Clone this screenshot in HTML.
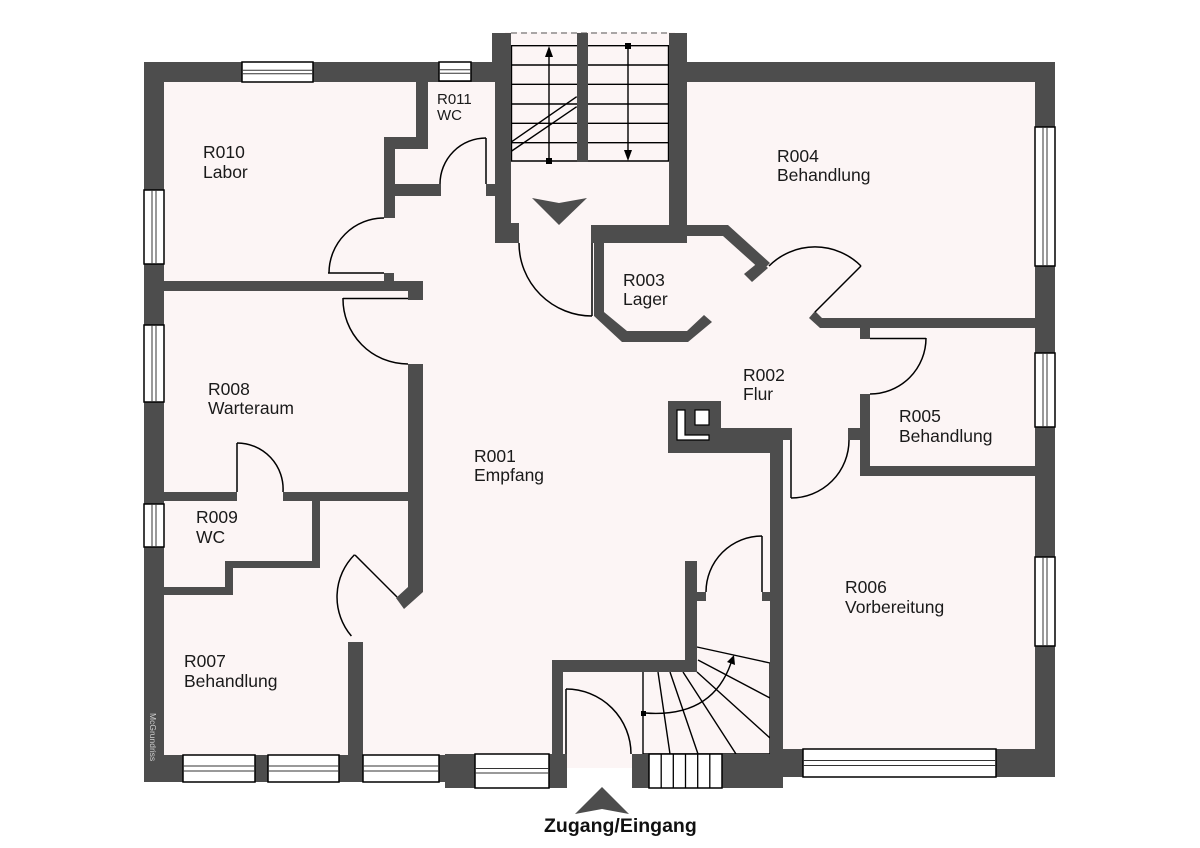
<!DOCTYPE html>
<html><head><meta charset="utf-8"><style>html,body{margin:0;padding:0;background:#fff}svg{display:block}</style></head>
<body>
<svg width="1200" height="848" viewBox="0 0 1200 848" xmlns="http://www.w3.org/2000/svg">
<rect width="1200" height="848" fill="#fff"/>
<!-- floor -->
<g fill="#fcf5f5">
<rect x="160" y="78" width="880" height="680"/>
<rect x="505" y="32" width="170" height="50"/>
<rect x="560" y="750" width="80" height="18"/>
</g>
<!-- stair treads (under walls) -->
<g stroke="#000" stroke-width="1.4" fill="none">
<path d="M511 45.7H669M511 65H669M511 84.3H669M511 104H669M511 123.3H669M511 142.7H669M511 161H669"/>
<path d="M511.5 45.7V161M668.5 45.7V161"/>
<path d="M511.7 141.7L576.7 96.7M511.7 151L576.7 106.7"/>
<path d="M549 161V53M628 46V154"/>
</g>
<path d="M511 33H669" stroke="#777" stroke-width="1.2" stroke-dasharray="6 4" fill="none"/>
<polygon points="549,46 545,57 553,57" fill="#000"/>
<polygon points="628,161 624,150 632,150" fill="#000"/>
<rect x="546" y="158" width="6" height="6" fill="#000"/>
<rect x="625" y="43" width="6" height="6" fill="#000"/>
<!-- spiral stair -->
<g stroke="#000" stroke-width="1.4" fill="none">
<path d="M643 672V754M643 754H770M697 647L770 663M770 663V754"/>
<path d="M658 672L670 754M670 672L698 754M683 672L736 754M697 672L770 738M698 660L770 698"/>
<path d="M645 713Q712 718 731 663"/>
</g>
<rect x="641" y="711" width="5" height="5" fill="#000"/>
<polygon points="734,655 735,665 727,662" fill="#000"/>
<!-- walls -->
<g fill="#4d4d4d">
<rect x="144" y="62" width="350" height="20"/>
<rect x="492" y="33" width="19" height="49"/>
<rect x="495" y="82" width="16" height="161"/>
<rect x="495" y="223" width="24" height="20"/>
<rect x="577" y="33" width="11" height="129"/>
<rect x="669" y="33" width="18" height="210"/>
<rect x="687" y="62" width="368" height="20"/>
<rect x="1035" y="62" width="20" height="715"/>
<rect x="144" y="62" width="20" height="720"/>
<rect x="144" y="755" width="301" height="27"/>
<rect x="445" y="754" width="122" height="34"/>
<rect x="632" y="754" width="150" height="34"/>
<rect x="782" y="749" width="273" height="28"/>
<rect x="416" y="82" width="12" height="67"/>
<rect x="384" y="137" width="44" height="12"/>
<rect x="384" y="137" width="11" height="81"/>
<rect x="395" y="184" width="46" height="12"/>
<rect x="486" y="184" width="9" height="12"/>
<rect x="384" y="273" width="10" height="8"/>
<rect x="164" y="281" width="259" height="10"/>
<rect x="408" y="281" width="15" height="19"/>
<polygon points="408,364 423,364 423,592 404,609 396,598 408,587"/>
<rect x="348" y="642" width="15" height="113"/>
<rect x="164" y="492" width="73" height="9"/>
<rect x="283" y="492" width="140" height="9"/>
<rect x="312" y="501" width="8" height="67"/>
<rect x="225" y="561" width="95" height="7"/>
<rect x="225" y="561" width="8" height="34"/>
<rect x="164" y="587" width="69" height="8"/>
<rect x="591" y="225" width="96" height="18"/>
<polygon points="687,225 728,225 770,263 762,271 723,236 687,236"/>
<polygon points="760,261 768,268 752,282 744,274"/>
<polygon points="594,243 604,243 604,312 627,331 687,331 704,315 712,322 688,342 622,342 594,316"/>
<polygon points="815,311 822,318 1035,318 1035,328 820,328 809,318"/>
<rect x="860" y="328" width="10" height="11"/>
<rect x="860" y="394" width="10" height="82"/>
<rect x="848" y="428" width="12" height="12"/>
<rect x="860" y="466" width="175" height="10"/>
<rect x="668" y="401" width="53" height="52"/>
<rect x="721" y="428" width="62" height="25"/>
<rect x="783" y="428" width="9" height="12"/>
<rect x="770" y="453" width="13" height="335"/>
<rect x="685" y="561" width="12" height="111"/>
<rect x="697" y="592" width="9" height="9"/>
<rect x="762" y="592" width="8" height="9"/>
<rect x="552" y="660" width="145" height="12"/>
<rect x="552" y="660" width="11" height="94"/>
</g>
<!-- chimney -->
<g fill="#fff" stroke="#000" stroke-width="1.2">
<rect x="695" y="410" width="14" height="15"/>
<polygon points="677,410 685,410 685,435 709,435 709,440 677,440"/>
</g>
<!-- windows -->
<g fill="#fff" stroke="#000" stroke-width="1.5">
<rect x="242" y="62" width="71" height="20"/>
<rect x="439" y="62" width="32" height="19"/>
<rect x="183" y="755" width="72" height="27"/>
<rect x="268" y="755" width="71" height="27"/>
<rect x="363" y="755" width="76" height="27"/>
<rect x="475" y="754" width="74" height="34"/>
<rect x="803" y="749" width="193" height="28"/>
<rect x="144" y="190" width="20" height="74"/>
<rect x="144" y="325" width="20" height="77"/>
<rect x="144" y="504" width="20" height="43"/>
<rect x="1035" y="127" width="20" height="139"/>
<rect x="1035" y="353" width="20" height="74"/>
<rect x="1035" y="557" width="20" height="89"/>
<rect x="649" y="754" width="73" height="34"/>
</g>
<g stroke="#333" stroke-width="1" fill="none">
<path d="M242 70.3H313M242 73.7H313"/>
<path d="M439 69.8H471M439 73.2H471"/>
<path d="M183 766H255M183 771H255"/>
<path d="M268 766H339M268 771H339"/>
<path d="M363 766H439M363 771H439"/>
<path d="M475 768.5H549M475 773H549"/>
<path d="M803 760.5H996M803 765.5H996"/>
<path d="M152 190V264M156 190V264"/>
<path d="M152 325V402M156 325V402"/>
<path d="M152 504V547M156 504V547"/>
<path d="M1043 127V266M1047 127V266"/>
<path d="M1043 353V427M1047 353V427"/>
<path d="M1043 557V646M1047 557V646"/>
</g>
<g stroke="#000" stroke-width="1.3" fill="none">
<path d="M661.2 754V788M673.3 754V788M685.5 754V788M697.7 754V788M709.8 754V788"/>
</g>
<!-- doors -->
<g stroke="#000" stroke-width="1.5" fill="none">
<path d="M486 138V184"/><path d="M486 138A46 46 0 0 0 440 184"/>
<path d="M328 273H384"/><path d="M384 218A55 55 0 0 0 329 273"/>
<path d="M343 298.5H408"/><path d="M343 298A65 65 0 0 0 408 364"/>
<path d="M237 443V492"/><path d="M237 443A46 46 0 0 1 283 492"/>
<path d="M397 597L355 555"/><path d="M354.6 554.6A60 60 0 0 0 351.4 636"/>
<path d="M592 243V316"/><path d="M519 243A73 73 0 0 0 592 316"/>
<path d="M861 266L815 312"/><path d="M769 266A65 65 0 0 1 861 266"/>
<path d="M870 338.5H926"/><path d="M926 338A56 56 0 0 1 870 394"/>
<path d="M791 440V498"/><path d="M791 498A58 58 0 0 0 849 440"/>
<path d="M762 536V592"/><path d="M706 592A56 56 0 0 1 762 536"/>
<path d="M566 689V754"/><path d="M566 689A65 65 0 0 1 631 754"/>
</g>
<!-- arrows -->
<polygon points="532,198 559,203 587,198 559,225" fill="#4d4d4d"/>
<polygon points="575,814 602,809 629,814 602,787" fill="#4d4d4d"/>
<!-- labels -->
<g font-family="'Liberation Sans', Arial, sans-serif" font-size="17.5" fill="#1a1a1a">
<text x="203" y="158">R010</text><text x="203" y="178">Labor</text>
<text x="777" y="162">R004</text><text x="777" y="181">Behandlung</text>
<text x="623" y="286">R003</text><text x="623" y="305">Lager</text>
<text x="743" y="381">R002</text><text x="743" y="400">Flur</text>
<text x="899" y="422">R005</text><text x="899" y="442">Behandlung</text>
<text x="208" y="395">R008</text><text x="208" y="414">Warteraum</text>
<text x="474" y="462">R001</text><text x="474" y="481">Empfang</text>
<text x="196" y="523">R009</text><text x="196" y="543">WC</text>
<text x="845" y="593">R006</text><text x="845" y="613">Vorbereitung</text>
<text x="184" y="667">R007</text><text x="184" y="687">Behandlung</text>
</g>
<g font-family="'Liberation Sans', Arial, sans-serif" font-size="15" fill="#1a1a1a">
<text x="437" y="104">R011</text><text x="437" y="120">WC</text>
</g>
<text x="544" y="832" font-family="'Liberation Sans', Arial, sans-serif" font-size="19.5" font-weight="bold" fill="#111">Zugang/Eingang</text>
<text transform="translate(150,713) rotate(90)" font-family="'Liberation Sans', Arial, sans-serif" font-size="8.5" fill="#d0d0d0">McGrundriss</text>
</svg>
</body></html>
